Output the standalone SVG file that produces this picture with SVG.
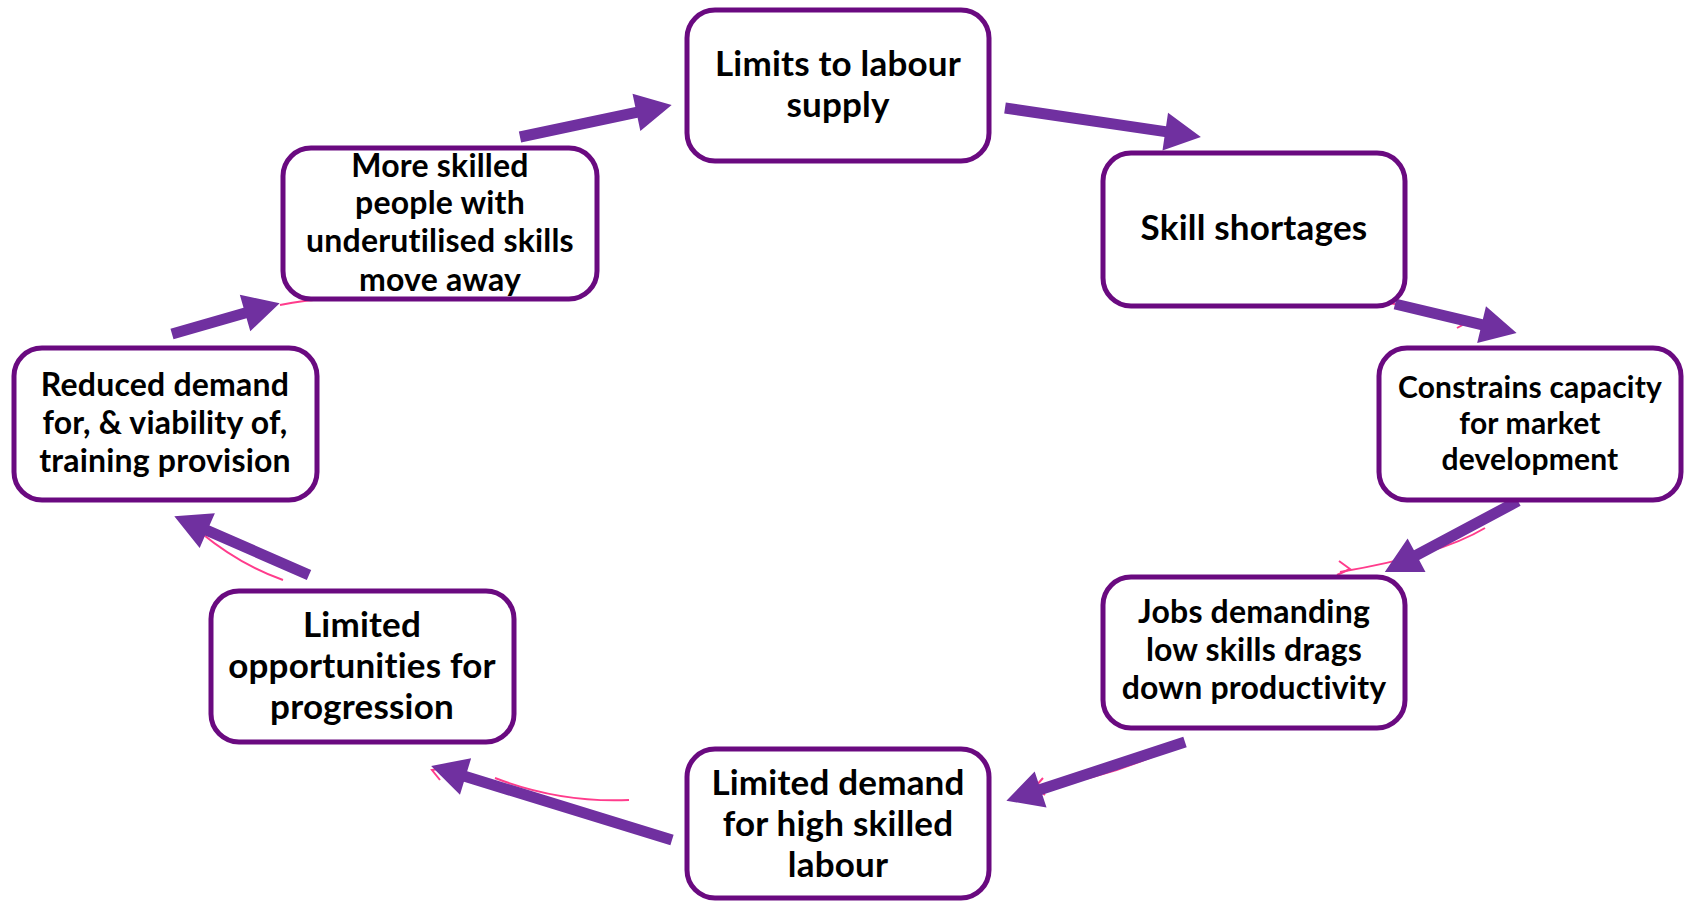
<svg xmlns="http://www.w3.org/2000/svg" width="1686" height="901" viewBox="0 0 1686 901">
<style>
.box{fill:#fff;stroke:#6a0a80;stroke-width:5}
.t{font-family:Lato,"Liberation Sans",sans-serif;font-weight:700;fill:#000;text-anchor:middle;letter-spacing:0.2px}
.l{font-size:35px}.m{font-size:32px}.s{font-size:30px}
.arr{fill:#7030a0}
.pk{fill:none;stroke:#ff3c8c;stroke-width:2}
</style>
<g id="connectors">
<g class="pk">
<path d="M643,101 L650,108 L644,116"/>
<path d="M1337,302 Q1370,300 1395,304"/>
<path d="M1459,317 L1466,323 L1457,328"/>
<path d="M1485,528 Q1440,555 1340,572"/>
<path d="M1339,561 L1350,569 L1337,575"/>
<path d="M1161,753 Q1100,780 1040,787"/>
<path d="M1043,778 L1035,787 L1045,795"/>
<path d="M629,800 Q560,803 495,778"/>
<path d="M445,768 L432,770 L440,780"/>
<path d="M283,580 Q240,565 200,532"/>
<path d="M196,529 L198,540"/>
<path d="M280,305 Q305,300 327,299 L338,298 L344,294"/>
</g>
<g class="arr">
<path transform="translate(520,137) rotate(-11.9)" d="M0,-5.5 L119,-5.5 L119,-19 L155,0 L119,19 L119,5.5 L0,5.5 Z"/>
<path transform="translate(1005,108) rotate(8.4)" d="M0,-5.5 L162,-5.5 L162,-19 L198,0 L162,19 L162,5.5 L0,5.5 Z"/>
<path transform="translate(1395,304) rotate(13.4)" d="M0,-5.5 L89,-5.5 L89,-19 L125,0 L89,19 L89,5.5 L0,5.5 Z"/>
<path transform="translate(1518,501) rotate(151.9)" d="M0,-5.5 L115,-5.5 L115,-19 L151,0 L115,19 L115,5.5 L0,5.5 Z"/>
<path transform="translate(1185,742) rotate(161.8)" d="M0,-5.5 L152,-5.5 L152,-19 L188,0 L152,19 L152,5.5 L0,5.5 Z"/>
<path transform="translate(672,840) rotate(197.1)" d="M0,-5.5 L216,-5.5 L216,-19 L252,0 L216,19 L216,5.5 L0,5.5 Z"/>
<path transform="translate(309,575) rotate(203.6)" d="M0,-5.5 L111,-5.5 L111,-19 L147,0 L111,19 L111,5.5 L0,5.5 Z"/>
<path transform="translate(172,334) rotate(-16)" d="M0,-5.5 L76,-5.5 L76,-19 L112,0 L76,19 L76,5.5 L0,5.5 Z"/>
</g>
</g>
<g id="n-limits-supply">
<rect class="box" x="687" y="10" width="302" height="151" rx="28"/>
<text class="t l" x="838" y="76">Limits to labour</text>
<text class="t l" x="838" y="117">supply</text>
</g>
<g id="n-skill-shortages">
<rect class="box" x="1103" y="153" width="302" height="153" rx="28"/>
<text class="t l" x="1254" y="240">Skill shortages</text>
</g>
<g id="n-constrains">
<rect class="box" x="1379" y="348" width="302" height="152" rx="28"/>
<text class="t s" x="1530" y="398">Constrains capacity</text>
<text class="t s" x="1530" y="434">for market</text>
<text class="t s" x="1530" y="470">development</text>
</g>
<g id="n-jobs-low-skills">
<rect class="box" x="1103" y="577" width="302" height="151" rx="28"/>
<text class="t m" x="1254" y="623">Jobs demanding</text>
<text class="t m" x="1254" y="661">low skills drags</text>
<text class="t m" x="1254" y="699">down productivity</text>
</g>
<g id="n-limited-demand">
<rect class="box" x="687" y="749" width="302" height="149" rx="28"/>
<text class="t l" x="838" y="795">Limited demand</text>
<text class="t l" x="838" y="836">for high skilled</text>
<text class="t l" x="838" y="877">labour</text>
</g>
<g id="n-limited-opps">
<rect class="box" x="211" y="591" width="303" height="151" rx="28"/>
<text class="t l" x="362" y="637">Limited</text>
<text class="t l" x="362" y="678">opportunities for</text>
<text class="t l" x="362" y="719">progression</text>
</g>
<g id="n-reduced-demand">
<rect class="box" x="14" y="348" width="303" height="152" rx="28"/>
<text class="t m" x="165" y="396">Reduced demand</text>
<text class="t m" x="165" y="434">for, &amp; viability of,</text>
<text class="t m" x="165" y="472">training provision</text>
</g>
<g id="n-more-skilled">
<rect class="box" x="283" y="148" width="314" height="151" rx="28"/>
<text class="t m" x="440" y="177">More skilled</text>
<text class="t m" x="440" y="214">people with</text>
<text class="t m" x="440" y="252">underutilised skills</text>
<text class="t m" x="440" y="291">move away</text>
</g>
</svg>
